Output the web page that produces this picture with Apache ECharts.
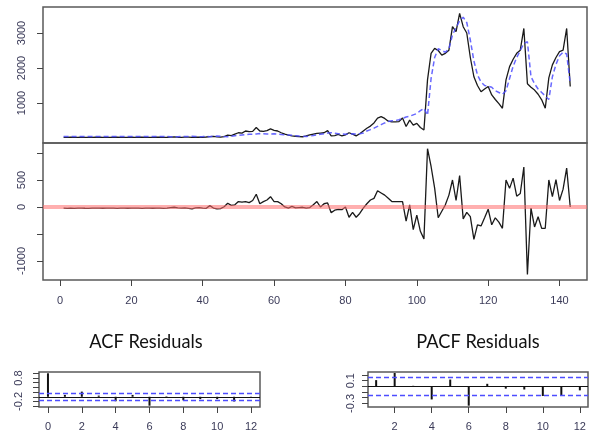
<!DOCTYPE html>
<html><head><meta charset="utf-8">
<script src="https://cdn.jsdelivr.net/npm/echarts@6/dist/echarts.min.js"></script>
<style>html,body{margin:0;padding:0;background:#fff}#c{width:590px;height:437px}</style>
</head><body><div id="c"></div>
<script>
// ---- data ----
const actual = [20,18,22,20,19,21,20,18,20,22,
21,20,19,20,22,21,20,19,20,21,
20,22,21,20,19,20,21,22,20,21,
25,28,22,20,24,26,18,22,25,20,
28,40,45,30,25,40,80,70,110,150,
140,200,180,190,300,200,190,210,260,220,
200,150,110,80,60,50,40,35,60,90,
110,130,140,150,210,60,70,100,60,90,
150,110,60,120,200,280,340,430,570,610,
560,480,460,460,470,570,330,510,370,420,
300,230,1660,2420,2560,2500,2370,2420,2510,3180,
3040,3560,3180,3000,2300,1750,1500,1320,1400,1470,
1230,1100,980,850,1660,2040,2250,2420,2510,3130,
1550,1450,1370,1250,1090,850,1720,2090,2300,2470,
2510,3130,1470];
const fitted = [40,42,41,40,43,42,40,41,42,40,
41,42,40,41,43,42,40,41,42,41,
40,42,41,40,42,41,40,42,41,40,
38,36,38,40,42,46,48,40,38,40,
48,38,50,55,50,42,36,50,65,75,
85,95,105,110,115,125,120,115,115,120,
110,100,95,85,75,65,55,50,45,55,
70,90,110,125,140,150,135,120,115,110,
115,120,115,120,140,200,240,280,330,380,
430,470,490,500,520,560,600,620,660,700,
780,850,650,1700,2300,2550,2500,2450,2550,2950,
3150,3350,3450,3300,2800,2200,1800,1600,1500,1480,
1450,1350,1300,1250,1350,1700,2050,2300,2500,2700,
2750,1750,1550,1400,1300,1200,1100,1750,2100,2350,
2450,2400,1560];
const residuals = [-22,-25,-20,-24,-22,-20,-23,-25,-22,-20,
-21,-23,-22,-20,-21,-24,-22,-20,-23,-21,
-22,-20,-24,-22,-21,-23,-20,-22,-24,-21,
-10,-5,-15,-20,-18,-25,-35,-15,-10,-20,
-25,25,-20,-35,-30,5,70,30,40,100,
90,100,80,120,235,60,100,130,190,100,
100,60,0,-20,10,-15,-10,-5,-20,-10,
40,100,0,60,75,-105,-60,-45,-50,0,
-190,-100,-190,-120,-20,60,130,160,300,260,
220,160,100,100,100,100,-260,40,-420,-150,
-450,-590,1080,750,350,-200,-80,40,220,500,
120,580,-220,-100,-180,-600,-330,-350,-200,-40,
-330,-200,-280,-395,500,345,535,200,250,740,
-1250,-20,-370,-180,-395,-395,500,190,505,120,
330,720,0];
const timeIndex = actual.map((_, i) => i + 1);

const acfLags   = [0,1,2,3,4,5,6,7,8,9,10,11,12];
const acfValues = [1.0,0.08,0.22,0.05,-0.19,0.08,-0.38,0.02,-0.15,-0.1,-0.1,-0.2,-0.05];
const pacfLags   = [1,2,3,4,5,6,7,8,9,10,11,12];
const pacfValues = [0.11,0.235,0.01,-0.23,0.12,-0.34,0.045,-0.04,-0.055,-0.17,-0.16,-0.07];
const ciBound = 0.164;

const timeTicks = [0,20,40,60,80,100,120,140];
const topTicks = [1000,2000,3000];
const resTicks = [-1000,-500,0,500,1000];
const resLabels = [-1000,0,500];
const acfXTicks = [0,2,4,6,8,10,12];
const acfYTicks = [-0.4,-0.2,0,0.2,0.4,0.6,0.8,1.0];
const acfYLabels = [-0.2,0.8];
const pacfXTicks = [2,4,6,8,10,12];
const pacfYTicks = [-0.3,-0.2,-0.1,0,0.1,0.2];
const pacfYLabels = [-0.3,0.1];

// ---- chart ----
const chart = echarts.init(document.getElementById('c'), null, {renderer:'canvas'});
const labelColor = '#3a3a58';
const fontFam = 'Liberation Sans, Arial, sans-serif';
const titleFont = '20px Lato, sans-serif';
const border = {show:true, borderColor:'#5a5a5a', borderWidth:1.5, backgroundColor:'transparent'};
function xAx(grid, min, max, ticks, showLab, margin) {
  return {type:'value', gridIndex:grid, min:min, max:max, position:'bottom',
    axisLine:{show:false, onZero:false}, splitLine:{show:false},
    axisTick:{show:!!ticks, length:6, customValues:ticks||[], lineStyle:{color:'#444'}},
    axisLabel:{show:showLab, customValues:ticks||[], fontSize:11, color:labelColor, fontFamily:fontFam, margin:margin||12,
      formatter: v => String(v)}};
}
function yAx(grid, min, max, ticks, labels, margin) {
  return {type:'value', gridIndex:grid, min:min, max:max, position:'left',
    axisLine:{show:false, onZero:false}, splitLine:{show:false},
    axisTick:{show:true, length:6, customValues:ticks, lineStyle:{color:'#444'}},
    axisLabel:{show:true, customValues:labels, rotate:90, fontSize:11, color:labelColor, fontFamily:fontFam, margin:margin,
      formatter: v => String(v)}};
}
const noSym = ['none','none'];
function refLines() {
  return {silent:true, symbol:noSym, label:{show:false}, z:4,
    data:[
      {yAxis:0, lineStyle:{color:'#111', width:1, type:'solid'}},
      {yAxis:ciBound, lineStyle:{color:'#4d4dff', width:1.3, type:[5,3]}},
      {yAxis:-ciBound, lineStyle:{color:'#4d4dff', width:1.3, type:[5,3]}}
    ]};
}
function title(text, x) {
  return {type:'text', x:x, y:342, scaleX:0.91,
    style:{text:text, font:titleFont, fill:'#111', align:'center', verticalAlign:'middle', textAlign:'center', textVerticalAlign:'middle'}};
}
const option = {
  animation:false,
  backgroundColor:'#fff',
  grid:[
    Object.assign({left:43, top:7, width:544, height:136}, border),
    Object.assign({left:43, top:143, width:544, height:137}, border),
    Object.assign({left:39, top:372, width:221, height:35}, border),
    Object.assign({left:368, top:372, width:220, height:35}, border)
  ],
  xAxis:[
    xAx(0, -4.77, 147.7, null, false),
    xAx(1, -4.77, 147.7, timeTicks, true, 15),
    xAx(2, -0.53, 12.53, acfXTicks, true, 14),
    xAx(3, 0.56, 12.44, pacfXTicks, true, 14)
  ],
  yAxis:[
    yAx(0, -143, 3743, topTicks, topTicks, 16),
    yAx(1, -1352, 1185, resTicks, resLabels, 16),
    yAx(2, -0.435, 1.055, acfYTicks, acfYLabels, 15),
    yAx(3, -0.363, 0.253, pacfYTicks, pacfYLabels, 12)
  ],
  graphic:[ title('ACF Residuals', 146), title('PACF Residuals', 478) ],
  series:[
    {type:'line', xAxisIndex:0, yAxisIndex:0, data:timeIndex.map((t,i)=>[t,actual[i]]),
      showSymbol:false, symbol:'none', lineStyle:{color:'#1a1a1a', width:1.3}, z:2},
    {type:'line', xAxisIndex:0, yAxisIndex:0, data:timeIndex.map((t,i)=>[t,fitted[i]]),
      showSymbol:false, symbol:'none', lineStyle:{color:'#4d4dff', width:1.5, type:[5,3], opacity:0.85}, z:3},
    {type:'line', xAxisIndex:1, yAxisIndex:1, data:timeIndex.map((t,i)=>[t,residuals[i]]),
      showSymbol:false, symbol:'none', lineStyle:{color:'#1a1a1a', width:1.3}, z:2,
      markLine:{silent:true, symbol:noSym, label:{show:false}, z:5,
        lineStyle:{color:'rgba(255,110,110,0.55)', width:4, type:'solid'},
        data:[{yAxis:0}]}},
    {type:'bar', xAxisIndex:2, yAxisIndex:2, data:acfLags.map((l,i)=>[l,acfValues[i]]),
      barWidth:2, itemStyle:{color:'#111'}, clip:false, z:3,
      markLine:refLines()},
    {type:'bar', xAxisIndex:3, yAxisIndex:3, data:pacfLags.map((l,i)=>[l,pacfValues[i]]),
      barWidth:2, itemStyle:{color:'#111'}, clip:false, z:3,
      markLine:refLines()}
  ]
};
chart.setOption(option);
</script>
</body></html>
